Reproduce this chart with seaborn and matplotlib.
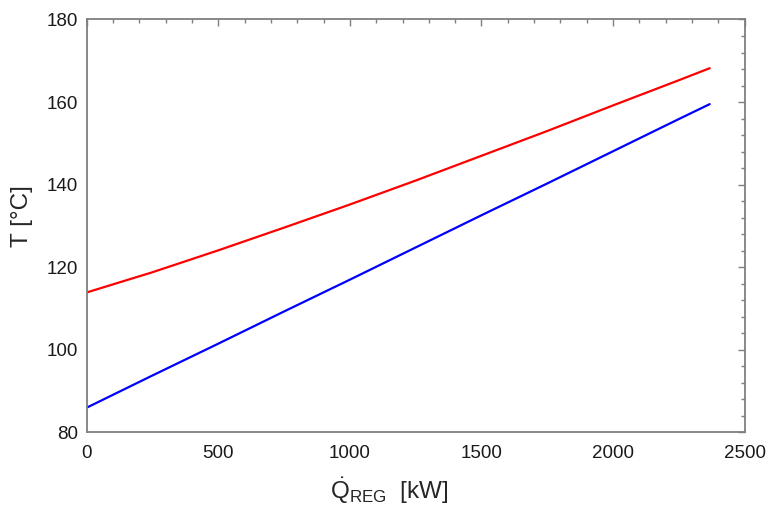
import pandas as pd
import matplotlib.pyplot as plt
import seaborn as sns
from matplotlib.ticker import MultipleLocator

# -----------------------------
# Data
# -----------------------------
q_reg = [0, 250, 500, 750, 1000, 1250, 1500, 1750, 2000, 2250, 2367]
t_hot = [113.9, 118.8, 124.1, 129.6, 135.2, 141.0, 147.0, 153.0, 159.2, 165.3, 168.2]
t_cold = [86.0, 93.8, 101.5, 109.3, 117.0, 124.8, 132.6, 140.3, 148.1, 155.9, 159.5]

df = pd.DataFrame({
    "Q": q_reg * 2,
    "T": t_hot + t_cold,
    "stream": ["hot"] * len(q_reg) + ["cold"] * len(q_reg),
})

# -----------------------------
# Style
# -----------------------------
sns.set_style("white")
plt.rcParams["font.family"] = ["Liberation Sans", "DejaVu Sans"]
plt.rcParams["mathtext.fontset"] = "custom"
plt.rcParams["mathtext.rm"] = "Liberation Sans"
plt.rcParams["mathtext.it"] = "Liberation Sans:italic"
plt.rcParams["mathtext.bf"] = "Liberation Sans:bold"

fig = plt.figure(figsize=(7.69, 5.13), dpi=100)
ax = fig.add_axes([0.1127, 0.157, 0.8557, 0.805])

sns.lineplot(
    data=df, x="Q", y="T", hue="stream",
    palette={"hot": "#ff0000", "cold": "#0000ff"},
    linewidth=1.6, legend=False, ax=ax,
)

ax.set_xlim(0, 2500)
ax.set_ylim(80, 180)
ax.xaxis.set_major_locator(MultipleLocator(500))
ax.xaxis.set_minor_locator(MultipleLocator(100))
ax.yaxis.set_major_locator(MultipleLocator(20))
ax.yaxis.set_minor_locator(MultipleLocator(4))

grey = "#7f7f7f"
for s in ax.spines.values():
    s.set_visible(True)
    s.set_color(grey)
    s.set_linewidth(1.3)

ax.tick_params(which="both", direction="in", top=True, right=True,
               color=grey, width=1.0)
ax.tick_params(which="major", length=5, labelsize=13.5, labelcolor="#1a1a1a")
ax.tick_params(axis="x", which="major", pad=9)
ax.tick_params(axis="y", which="major", pad=6)
ax.tick_params(which="minor", length=3)

ax.set_xlabel(r"$\dot{\mathrm{Q}}_{\mathrm{REG}}$  [kW]", fontsize=17.5)
ax.set_ylabel("T [°C]", fontsize=17.5)
ax.xaxis.set_label_coords(0.46, -0.103)
ax.yaxis.set_label_coords(-0.082, 0.524)

plt.savefig("out.png", dpi=100)
plt.close()
